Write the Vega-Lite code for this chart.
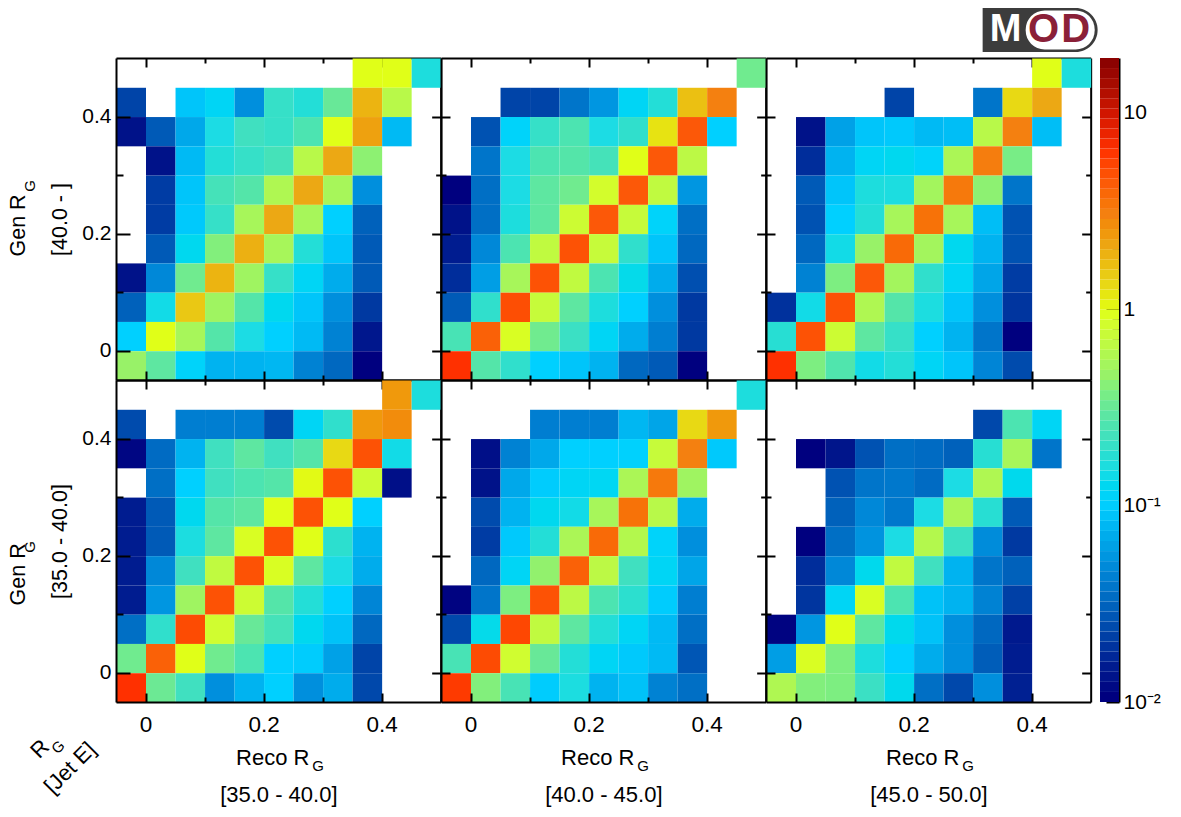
{
  "$schema": "https://vega.github.io/schema/vega-lite/v6.json",
  "background": "#ffffff",
  "padding": {"left": 7, "top": 8, "right": 5, "bottom": 5},
  "config": {
    "view": {"stroke": null},
    "font": "Liberation Sans",
    "axis": {
      "grid": false,
      "domainColor": "#000000",
      "domainWidth": 2,
      "tickColor": "#000000",
      "tickWidth": 2,
      "labelColor": "#000000",
      "labelFont": "Liberation Sans",
      "titleColor": "#000000",
      "titleFont": "Liberation Sans",
      "titleFontWeight": "normal"
    },
    "axisX": {"labelFontSize": 22.5, "titleFontSize": 22},
    "axisY": {"labelFontSize": 21, "titleFontSize": 21.5}
  },
  "datasets": {
    "A": [
      {"x":0.375,"y":0.475,"v":0.925},{"x":0.425,"y":0.475,"v":0.925},{"x":0.475,"y":0.475,"v":0.151},
      {"x":-0.025,"y":0.425,"v":0.0213},{"x":0.075,"y":0.425,"v":0.0859},{"x":0.125,"y":0.425,"v":0.112},{"x":0.175,"y":0.425,"v":0.0488},{"x":0.225,"y":0.425,"v":0.19},{"x":0.275,"y":0.425,"v":0.163},{"x":0.325,"y":0.425,"v":0.298},{"x":0.375,"y":0.425,"v":1.76},{"x":0.425,"y":0.425,"v":0.589},
      {"x":-0.025,"y":0.375,"v":0.0125},{"x":0.025,"y":0.375,"v":0.0267},{"x":0.075,"y":0.375,"v":0.0635},{"x":0.125,"y":0.375,"v":0.14},{"x":0.175,"y":0.375,"v":0.205},{"x":0.225,"y":0.375,"v":0.19},{"x":0.275,"y":0.375,"v":0.238},{"x":0.325,"y":0.375,"v":0.925},{"x":0.375,"y":0.375,"v":2.12},{"x":0.425,"y":0.375,"v":0.0767},
      {"x":0.025,"y":0.325,"v":0.0125},{"x":0.075,"y":0.325,"v":0.0767},{"x":0.125,"y":0.325,"v":0.163},{"x":0.175,"y":0.325,"v":0.19},{"x":0.225,"y":0.325,"v":0.221},{"x":0.275,"y":0.325,"v":0.589},{"x":0.325,"y":0.325,"v":1.97},{"x":0.375,"y":0.325,"v":0.404},
      {"x":0.025,"y":0.275,"v":0.0197},{"x":0.075,"y":0.275,"v":0.0859},{"x":0.125,"y":0.275,"v":0.221},{"x":0.175,"y":0.275,"v":0.257},{"x":0.225,"y":0.275,"v":0.546},{"x":0.275,"y":0.275,"v":1.97},{"x":0.325,"y":0.275,"v":0.506},{"x":0.375,"y":0.275,"v":0.0488},
      {"x":0.025,"y":0.225,"v":0.0197},{"x":0.075,"y":0.225,"v":0.0892},{"x":0.125,"y":0.225,"v":0.19},{"x":0.175,"y":0.225,"v":0.506},{"x":0.225,"y":0.225,"v":1.97},{"x":0.275,"y":0.225,"v":0.506},{"x":0.325,"y":0.225,"v":0.0962},{"x":0.375,"y":0.225,"v":0.0287},
      {"x":0.025,"y":0.175,"v":0.0267},{"x":0.075,"y":0.175,"v":0.121},{"x":0.125,"y":0.175,"v":0.375},{"x":0.175,"y":0.175,"v":1.83},{"x":0.225,"y":0.175,"v":0.506},{"x":0.275,"y":0.175,"v":0.163},{"x":0.325,"y":0.175,"v":0.0859},{"x":0.375,"y":0.175,"v":0.0267},
      {"x":-0.025,"y":0.125,"v":0.0125},{"x":0.025,"y":0.125,"v":0.0452},{"x":0.075,"y":0.125,"v":0.322},{"x":0.125,"y":0.125,"v":1.76},{"x":0.175,"y":0.125,"v":0.47},{"x":0.225,"y":0.125,"v":0.19},{"x":0.275,"y":0.125,"v":0.112},{"x":0.325,"y":0.125,"v":0.066},{"x":0.375,"y":0.125,"v":0.0267},
      {"x":-0.025,"y":0.075,"v":0.0287},{"x":0.025,"y":0.075,"v":0.135},{"x":0.075,"y":0.075,"v":1.46},{"x":0.125,"y":0.075,"v":0.47},{"x":0.175,"y":0.075,"v":0.257},{"x":0.225,"y":0.075,"v":0.121},{"x":0.275,"y":0.075,"v":0.0859},{"x":0.325,"y":0.075,"v":0.0488},{"x":0.375,"y":0.075,"v":0.019},
      {"x":-0.025,"y":0.025,"v":0.0962},{"x":0.025,"y":0.025,"v":0.925},{"x":0.075,"y":0.025,"v":0.506},{"x":0.125,"y":0.025,"v":0.257},{"x":0.175,"y":0.025,"v":0.14},{"x":0.225,"y":0.025,"v":0.0962},{"x":0.275,"y":0.025,"v":0.0767},{"x":0.325,"y":0.025,"v":0.0419},{"x":0.375,"y":0.025,"v":0.0135},
      {"x":-0.025,"y":-0.025,"v":0.435},{"x":0.025,"y":-0.025,"v":0.277},{"x":0.075,"y":-0.025,"v":0.104},{"x":0.125,"y":-0.025,"v":0.0711},{"x":0.175,"y":-0.025,"v":0.0711},{"x":0.225,"y":-0.025,"v":0.0739},{"x":0.275,"y":-0.025,"v":0.0419},{"x":0.325,"y":-0.025,"v":0.031},{"x":0.375,"y":-0.025,"v":0.01}
    ],
    "B": [
      {"x":0.475,"y":0.475,"v":0.322},
      {"x":0.075,"y":0.425,"v":0.0213},{"x":0.125,"y":0.425,"v":0.0213},{"x":0.175,"y":0.425,"v":0.0361},{"x":0.225,"y":0.425,"v":0.0526},{"x":0.275,"y":0.425,"v":0.112},{"x":0.325,"y":0.425,"v":0.163},{"x":0.375,"y":0.425,"v":1.57},{"x":0.425,"y":0.425,"v":2.87},
      {"x":0.025,"y":0.375,"v":0.0247},{"x":0.075,"y":0.375,"v":0.104},{"x":0.125,"y":0.375,"v":0.19},{"x":0.175,"y":0.375,"v":0.238},{"x":0.225,"y":0.375,"v":0.14},{"x":0.275,"y":0.375,"v":0.182},{"x":0.325,"y":0.375,"v":1.16},{"x":0.375,"y":0.375,"v":4.19},{"x":0.425,"y":0.375,"v":0.0962},
      {"x":0.025,"y":0.325,"v":0.0361},{"x":0.075,"y":0.325,"v":0.14},{"x":0.125,"y":0.325,"v":0.238},{"x":0.175,"y":0.325,"v":0.257},{"x":0.225,"y":0.325,"v":0.221},{"x":0.275,"y":0.325,"v":0.925},{"x":0.325,"y":0.325,"v":4.19},{"x":0.375,"y":0.325,"v":0.611},
      {"x":-0.025,"y":0.275,"v":0.01},{"x":0.025,"y":0.275,"v":0.0335},{"x":0.075,"y":0.275,"v":0.14},{"x":0.125,"y":0.275,"v":0.277},{"x":0.175,"y":0.275,"v":0.322},{"x":0.225,"y":0.275,"v":0.795},{"x":0.275,"y":0.275,"v":4.19},{"x":0.325,"y":0.275,"v":0.634},{"x":0.375,"y":0.275,"v":0.0526},
      {"x":-0.025,"y":0.225,"v":0.0125},{"x":0.025,"y":0.225,"v":0.0335},{"x":0.075,"y":0.225,"v":0.151},{"x":0.125,"y":0.225,"v":0.277},{"x":0.175,"y":0.225,"v":0.738},{"x":0.225,"y":0.225,"v":4.19},{"x":0.275,"y":0.225,"v":0.684},{"x":0.325,"y":0.225,"v":0.104},{"x":0.375,"y":0.225,"v":0.0335},
      {"x":-0.025,"y":0.175,"v":0.0146},{"x":0.025,"y":0.175,"v":0.0452},{"x":0.075,"y":0.175,"v":0.238},{"x":0.125,"y":0.175,"v":0.634},{"x":0.175,"y":0.175,"v":4.51},{"x":0.225,"y":0.175,"v":0.684},{"x":0.275,"y":0.175,"v":0.182},{"x":0.325,"y":0.175,"v":0.0859},{"x":0.375,"y":0.175,"v":0.031},
      {"x":-0.025,"y":0.125,"v":0.017},{"x":0.025,"y":0.125,"v":0.0567},{"x":0.075,"y":0.125,"v":0.506},{"x":0.125,"y":0.125,"v":4.51},{"x":0.175,"y":0.125,"v":0.634},{"x":0.225,"y":0.125,"v":0.238},{"x":0.275,"y":0.125,"v":0.13},{"x":0.325,"y":0.125,"v":0.066},{"x":0.375,"y":0.125,"v":0.0238},
      {"x":-0.025,"y":0.075,"v":0.0267},{"x":0.025,"y":0.075,"v":0.182},{"x":0.075,"y":0.075,"v":4.69},{"x":0.125,"y":0.075,"v":0.684},{"x":0.175,"y":0.075,"v":0.277},{"x":0.225,"y":0.075,"v":0.151},{"x":0.275,"y":0.075,"v":0.0962},{"x":0.325,"y":0.075,"v":0.0488},{"x":0.375,"y":0.075,"v":0.019},
      {"x":-0.025,"y":0.025,"v":0.229},{"x":0.025,"y":0.025,"v":3.88},{"x":0.075,"y":0.025,"v":0.857},{"x":0.125,"y":0.025,"v":0.322},{"x":0.175,"y":0.025,"v":0.197},{"x":0.225,"y":0.025,"v":0.112},{"x":0.275,"y":0.025,"v":0.066},{"x":0.325,"y":0.025,"v":0.0404},{"x":0.375,"y":0.025,"v":0.019},
      {"x":-0.025,"y":-0.025,"v":6.1},{"x":0.025,"y":-0.025,"v":0.257},{"x":0.075,"y":-0.025,"v":0.182},{"x":0.125,"y":-0.025,"v":0.0962},{"x":0.175,"y":-0.025,"v":0.0859},{"x":0.225,"y":-0.025,"v":0.0711},{"x":0.275,"y":-0.025,"v":0.031},{"x":0.325,"y":-0.025,"v":0.0267},{"x":0.375,"y":-0.025,"v":0.01}
    ],
    "C": [
      {"x":0.425,"y":0.475,"v":0.925},{"x":0.475,"y":0.475,"v":0.151},
      {"x":0.175,"y":0.425,"v":0.0213},{"x":0.325,"y":0.425,"v":0.0361},{"x":0.375,"y":0.425,"v":1.25},{"x":0.425,"y":0.425,"v":1.97},
      {"x":0.025,"y":0.375,"v":0.0125},{"x":0.075,"y":0.375,"v":0.0589},{"x":0.125,"y":0.375,"v":0.0859},{"x":0.175,"y":0.375,"v":0.0892},{"x":0.225,"y":0.375,"v":0.0767},{"x":0.275,"y":0.375,"v":0.0796},{"x":0.325,"y":0.375,"v":0.589},{"x":0.375,"y":0.375,"v":2.87},{"x":0.425,"y":0.375,"v":0.0796},
      {"x":0.025,"y":0.325,"v":0.017},{"x":0.075,"y":0.325,"v":0.0711},{"x":0.125,"y":0.325,"v":0.112},{"x":0.175,"y":0.325,"v":0.121},{"x":0.225,"y":0.325,"v":0.104},{"x":0.275,"y":0.325,"v":0.526},{"x":0.325,"y":0.325,"v":2.98},{"x":0.375,"y":0.325,"v":0.347},
      {"x":0.025,"y":0.275,"v":0.0267},{"x":0.075,"y":0.275,"v":0.0859},{"x":0.125,"y":0.275,"v":0.151},{"x":0.175,"y":0.275,"v":0.146},{"x":0.225,"y":0.275,"v":0.488},{"x":0.275,"y":0.275,"v":3.09},{"x":0.325,"y":0.275,"v":0.404},{"x":0.375,"y":0.275,"v":0.0361},
      {"x":0.025,"y":0.225,"v":0.0247},{"x":0.075,"y":0.225,"v":0.0962},{"x":0.125,"y":0.225,"v":0.163},{"x":0.175,"y":0.225,"v":0.506},{"x":0.225,"y":0.225,"v":3.33},{"x":0.275,"y":0.225,"v":0.506},{"x":0.325,"y":0.225,"v":0.0796},{"x":0.375,"y":0.225,"v":0.0247},
      {"x":0.025,"y":0.175,"v":0.031},{"x":0.075,"y":0.175,"v":0.135},{"x":0.125,"y":0.175,"v":0.435},{"x":0.175,"y":0.175,"v":3.6},{"x":0.225,"y":0.175,"v":0.488},{"x":0.275,"y":0.175,"v":0.121},{"x":0.325,"y":0.175,"v":0.0711},{"x":0.375,"y":0.175,"v":0.0247},
      {"x":0.025,"y":0.125,"v":0.0419},{"x":0.075,"y":0.125,"v":0.361},{"x":0.125,"y":0.125,"v":4.19},{"x":0.175,"y":0.125,"v":0.488},{"x":0.225,"y":0.125,"v":0.182},{"x":0.275,"y":0.125,"v":0.112},{"x":0.325,"y":0.125,"v":0.0612},{"x":0.375,"y":0.125,"v":0.0197},
      {"x":-0.025,"y":0.075,"v":0.0176},{"x":0.025,"y":0.075,"v":0.135},{"x":0.075,"y":0.075,"v":4.51},{"x":0.125,"y":0.075,"v":0.546},{"x":0.175,"y":0.075,"v":0.257},{"x":0.225,"y":0.075,"v":0.146},{"x":0.275,"y":0.075,"v":0.0859},{"x":0.325,"y":0.075,"v":0.0488},{"x":0.375,"y":0.075,"v":0.0183},
      {"x":-0.025,"y":0.025,"v":0.169},{"x":0.025,"y":0.025,"v":4.51},{"x":0.075,"y":0.025,"v":0.738},{"x":0.125,"y":0.025,"v":0.277},{"x":0.175,"y":0.025,"v":0.19},{"x":0.225,"y":0.025,"v":0.0962},{"x":0.275,"y":0.025,"v":0.0711},{"x":0.325,"y":0.025,"v":0.0361},{"x":0.375,"y":0.025,"v":0.01},
      {"x":-0.025,"y":-0.025,"v":6.1},{"x":0.025,"y":-0.025,"v":0.361},{"x":0.075,"y":-0.025,"v":0.247},{"x":0.125,"y":-0.025,"v":0.135},{"x":0.175,"y":-0.025,"v":0.163},{"x":0.225,"y":-0.025,"v":0.112},{"x":0.275,"y":-0.025,"v":0.0859},{"x":0.325,"y":-0.025,"v":0.0436},{"x":0.375,"y":-0.025,"v":0.0229}
    ],
    "D": [
      {"x":0.425,"y":0.475,"v":2.29},{"x":0.475,"y":0.475,"v":0.151},
      {"x":-0.025,"y":0.425,"v":0.0229},{"x":0.075,"y":0.425,"v":0.0404},{"x":0.125,"y":0.425,"v":0.0404},{"x":0.175,"y":0.425,"v":0.0404},{"x":0.225,"y":0.425,"v":0.0229},{"x":0.275,"y":0.425,"v":0.112},{"x":0.325,"y":0.425,"v":0.182},{"x":0.375,"y":0.425,"v":2.29},{"x":0.425,"y":0.425,"v":2.57},
      {"x":-0.025,"y":0.375,"v":0.0108},{"x":0.025,"y":0.375,"v":0.0322},{"x":0.075,"y":0.375,"v":0.0711},{"x":0.125,"y":0.375,"v":0.205},{"x":0.175,"y":0.375,"v":0.277},{"x":0.225,"y":0.375,"v":0.205},{"x":0.275,"y":0.375,"v":0.257},{"x":0.325,"y":0.375,"v":1.25},{"x":0.375,"y":0.375,"v":4.51},{"x":0.425,"y":0.375,"v":0.135},
      {"x":0.025,"y":0.325,"v":0.0335},{"x":0.075,"y":0.325,"v":0.0962},{"x":0.125,"y":0.325,"v":0.205},{"x":0.175,"y":0.325,"v":0.238},{"x":0.225,"y":0.325,"v":0.257},{"x":0.275,"y":0.325,"v":0.96},{"x":0.325,"y":0.325,"v":4.51},{"x":0.375,"y":0.325,"v":0.738},{"x":0.425,"y":0.325,"v":0.0121},
      {"x":-0.025,"y":0.275,"v":0.0146},{"x":0.025,"y":0.275,"v":0.0267},{"x":0.075,"y":0.275,"v":0.121},{"x":0.125,"y":0.275,"v":0.257},{"x":0.175,"y":0.275,"v":0.277},{"x":0.225,"y":0.275,"v":0.925},{"x":0.275,"y":0.275,"v":4.51},{"x":0.325,"y":0.275,"v":0.925},{"x":0.375,"y":0.275,"v":0.0962},
      {"x":-0.025,"y":0.225,"v":0.0146},{"x":0.025,"y":0.225,"v":0.0267},{"x":0.075,"y":0.225,"v":0.146},{"x":0.125,"y":0.225,"v":0.277},{"x":0.175,"y":0.225,"v":0.857},{"x":0.225,"y":0.225,"v":4.51},{"x":0.275,"y":0.225,"v":0.925},{"x":0.325,"y":0.225,"v":0.176},{"x":0.375,"y":0.225,"v":0.0711},
      {"x":-0.025,"y":0.175,"v":0.0146},{"x":0.025,"y":0.175,"v":0.0452},{"x":0.075,"y":0.175,"v":0.205},{"x":0.125,"y":0.175,"v":0.634},{"x":0.175,"y":0.175,"v":4.51},{"x":0.225,"y":0.175,"v":0.857},{"x":0.275,"y":0.175,"v":0.277},{"x":0.325,"y":0.175,"v":0.14},{"x":0.375,"y":0.175,"v":0.066},
      {"x":-0.025,"y":0.125,"v":0.0146},{"x":0.025,"y":0.125,"v":0.0526},{"x":0.075,"y":0.125,"v":0.47},{"x":0.125,"y":0.125,"v":4.51},{"x":0.175,"y":0.125,"v":0.738},{"x":0.225,"y":0.125,"v":0.257},{"x":0.275,"y":0.125,"v":0.163},{"x":0.325,"y":0.125,"v":0.0962},{"x":0.375,"y":0.125,"v":0.0436},
      {"x":-0.025,"y":0.075,"v":0.0335},{"x":0.025,"y":0.075,"v":0.182},{"x":0.075,"y":0.075,"v":4.87},{"x":0.125,"y":0.075,"v":0.766},{"x":0.175,"y":0.075,"v":0.298},{"x":0.225,"y":0.075,"v":0.221},{"x":0.275,"y":0.075,"v":0.121},{"x":0.325,"y":0.075,"v":0.0827},{"x":0.375,"y":0.075,"v":0.031},
      {"x":-0.025,"y":0.025,"v":0.322},{"x":0.025,"y":0.025,"v":3.88},{"x":0.075,"y":0.025,"v":0.925},{"x":0.125,"y":0.025,"v":0.322},{"x":0.175,"y":0.025,"v":0.238},{"x":0.225,"y":0.025,"v":0.0962},{"x":0.275,"y":0.025,"v":0.0926},{"x":0.325,"y":0.025,"v":0.0589},{"x":0.375,"y":0.025,"v":0.0213},
      {"x":-0.025,"y":-0.025,"v":6.1},{"x":0.025,"y":-0.025,"v":0.31},{"x":0.075,"y":-0.025,"v":0.205},{"x":0.125,"y":-0.025,"v":0.0488},{"x":0.175,"y":-0.025,"v":0.0711},{"x":0.225,"y":-0.025,"v":0.0962},{"x":0.275,"y":-0.025,"v":0.0488},{"x":0.325,"y":-0.025,"v":0.066},{"x":0.375,"y":-0.025,"v":0.0221}
    ],
    "E": [
      {"x":0.475,"y":0.475,"v":0.151},
      {"x":0.125,"y":0.425,"v":0.0404},{"x":0.175,"y":0.425,"v":0.0404},{"x":0.225,"y":0.425,"v":0.0404},{"x":0.275,"y":0.425,"v":0.0739},{"x":0.325,"y":0.425,"v":0.0612},{"x":0.375,"y":0.425,"v":1.25},{"x":0.425,"y":0.425,"v":2.29},
      {"x":0.025,"y":0.375,"v":0.0121},{"x":0.075,"y":0.375,"v":0.0419},{"x":0.125,"y":0.375,"v":0.0635},{"x":0.175,"y":0.375,"v":0.0962},{"x":0.225,"y":0.375,"v":0.0962},{"x":0.275,"y":0.375,"v":0.0999},{"x":0.325,"y":0.375,"v":0.684},{"x":0.375,"y":0.375,"v":2.87},{"x":0.425,"y":0.375,"v":0.0892},
      {"x":0.025,"y":0.325,"v":0.0125},{"x":0.075,"y":0.325,"v":0.0635},{"x":0.125,"y":0.325,"v":0.0926},{"x":0.175,"y":0.325,"v":0.112},{"x":0.225,"y":0.325,"v":0.116},{"x":0.275,"y":0.325,"v":0.526},{"x":0.325,"y":0.325,"v":3.09},{"x":0.375,"y":0.325,"v":0.47},
      {"x":0.025,"y":0.275,"v":0.0229},{"x":0.075,"y":0.275,"v":0.0711},{"x":0.125,"y":0.275,"v":0.121},{"x":0.175,"y":0.275,"v":0.135},{"x":0.225,"y":0.275,"v":0.506},{"x":0.275,"y":0.275,"v":3.33},{"x":0.325,"y":0.275,"v":0.589},{"x":0.375,"y":0.275,"v":0.066},
      {"x":0.025,"y":0.225,"v":0.0197},{"x":0.075,"y":0.225,"v":0.0892},{"x":0.125,"y":0.225,"v":0.163},{"x":0.175,"y":0.225,"v":0.526},{"x":0.225,"y":0.225,"v":3.6},{"x":0.275,"y":0.225,"v":0.567},{"x":0.325,"y":0.225,"v":0.104},{"x":0.375,"y":0.225,"v":0.0488},
      {"x":0.025,"y":0.175,"v":0.031},{"x":0.075,"y":0.175,"v":0.112},{"x":0.125,"y":0.175,"v":0.419},{"x":0.175,"y":0.175,"v":3.88},{"x":0.225,"y":0.175,"v":0.611},{"x":0.275,"y":0.175,"v":0.205},{"x":0.325,"y":0.175,"v":0.112},{"x":0.375,"y":0.175,"v":0.0612},
      {"x":-0.025,"y":0.125,"v":0.0104},{"x":0.025,"y":0.125,"v":0.0361},{"x":0.075,"y":0.125,"v":0.361},{"x":0.125,"y":0.125,"v":4.51},{"x":0.175,"y":0.125,"v":0.611},{"x":0.225,"y":0.125,"v":0.238},{"x":0.275,"y":0.125,"v":0.176},{"x":0.325,"y":0.125,"v":0.0926},{"x":0.375,"y":0.125,"v":0.0404},
      {"x":-0.025,"y":0.075,"v":0.0221},{"x":0.025,"y":0.075,"v":0.13},{"x":0.075,"y":0.075,"v":5.05},{"x":0.125,"y":0.075,"v":0.634},{"x":0.175,"y":0.075,"v":0.277},{"x":0.225,"y":0.075,"v":0.163},{"x":0.275,"y":0.075,"v":0.112},{"x":0.325,"y":0.075,"v":0.0767},{"x":0.375,"y":0.075,"v":0.0335},
      {"x":-0.025,"y":0.025,"v":0.229},{"x":0.025,"y":0.025,"v":4.87},{"x":0.075,"y":0.025,"v":0.766},{"x":0.125,"y":0.025,"v":0.298},{"x":0.175,"y":0.025,"v":0.163},{"x":0.225,"y":0.025,"v":0.112},{"x":0.275,"y":0.025,"v":0.0892},{"x":0.325,"y":0.025,"v":0.0767},{"x":0.375,"y":0.025,"v":0.0257},
      {"x":-0.025,"y":-0.025,"v":5.66},{"x":0.025,"y":-0.025,"v":0.375},{"x":0.075,"y":-0.025,"v":0.229},{"x":0.125,"y":-0.025,"v":0.0926},{"x":0.175,"y":-0.025,"v":0.146},{"x":0.225,"y":-0.025,"v":0.0711},{"x":0.275,"y":-0.025,"v":0.0827},{"x":0.325,"y":-0.025,"v":0.0419},{"x":0.375,"y":-0.025,"v":0.0335}
    ],
    "F": [
      {"x":0.325,"y":0.425,"v":0.0221},{"x":0.375,"y":0.425,"v":0.238},{"x":0.425,"y":0.425,"v":0.112},
      {"x":0.025,"y":0.375,"v":0.01},{"x":0.075,"y":0.375,"v":0.013},{"x":0.125,"y":0.375,"v":0.0247},{"x":0.175,"y":0.375,"v":0.0335},{"x":0.225,"y":0.375,"v":0.0322},{"x":0.275,"y":0.375,"v":0.0287},{"x":0.325,"y":0.375,"v":0.169},{"x":0.375,"y":0.375,"v":0.506},{"x":0.425,"y":0.375,"v":0.0361},
      {"x":0.075,"y":0.325,"v":0.0247},{"x":0.125,"y":0.325,"v":0.0361},{"x":0.175,"y":0.325,"v":0.0374},{"x":0.225,"y":0.325,"v":0.0322},{"x":0.275,"y":0.325,"v":0.14},{"x":0.325,"y":0.325,"v":0.546},{"x":0.375,"y":0.325,"v":0.125},
      {"x":0.075,"y":0.275,"v":0.0287},{"x":0.125,"y":0.275,"v":0.0452},{"x":0.175,"y":0.275,"v":0.0374},{"x":0.225,"y":0.275,"v":0.14},{"x":0.275,"y":0.275,"v":0.526},{"x":0.325,"y":0.275,"v":0.169},{"x":0.375,"y":0.275,"v":0.0267},
      {"x":0.025,"y":0.225,"v":0.01},{"x":0.075,"y":0.225,"v":0.0335},{"x":0.125,"y":0.225,"v":0.0506},{"x":0.175,"y":0.225,"v":0.14},{"x":0.225,"y":0.225,"v":0.567},{"x":0.275,"y":0.225,"v":0.197},{"x":0.325,"y":0.225,"v":0.047},{"x":0.375,"y":0.225,"v":0.019},
      {"x":0.025,"y":0.175,"v":0.017},{"x":0.075,"y":0.175,"v":0.0452},{"x":0.125,"y":0.175,"v":0.125},{"x":0.175,"y":0.175,"v":0.634},{"x":0.225,"y":0.175,"v":0.205},{"x":0.275,"y":0.175,"v":0.0711},{"x":0.325,"y":0.175,"v":0.0361},{"x":0.375,"y":0.175,"v":0.0287},
      {"x":0.025,"y":0.125,"v":0.0183},{"x":0.075,"y":0.125,"v":0.112},{"x":0.125,"y":0.125,"v":0.857},{"x":0.175,"y":0.125,"v":0.238},{"x":0.225,"y":0.125,"v":0.0827},{"x":0.275,"y":0.125,"v":0.0711},{"x":0.325,"y":0.125,"v":0.0419},{"x":0.375,"y":0.125,"v":0.0205},
      {"x":-0.025,"y":0.075,"v":0.0104},{"x":0.025,"y":0.075,"v":0.0526},{"x":0.075,"y":0.075,"v":0.925},{"x":0.125,"y":0.075,"v":0.277},{"x":0.175,"y":0.075,"v":0.125},{"x":0.225,"y":0.075,"v":0.0827},{"x":0.275,"y":0.075,"v":0.0488},{"x":0.325,"y":0.075,"v":0.031},{"x":0.375,"y":0.075,"v":0.014},
      {"x":-0.025,"y":0.025,"v":0.0567},{"x":0.025,"y":0.025,"v":0.857},{"x":0.075,"y":0.025,"v":0.361},{"x":0.125,"y":0.025,"v":0.151},{"x":0.175,"y":0.025,"v":0.0962},{"x":0.225,"y":0.025,"v":0.066},{"x":0.275,"y":0.025,"v":0.0488},{"x":0.325,"y":0.025,"v":0.0277},{"x":0.375,"y":0.025,"v":0.0146},
      {"x":-0.025,"y":-0.025,"v":0.546},{"x":0.025,"y":-0.025,"v":0.375},{"x":0.075,"y":-0.025,"v":0.361},{"x":0.125,"y":-0.025,"v":0.197},{"x":0.175,"y":-0.025,"v":0.125},{"x":0.225,"y":-0.025,"v":0.0335},{"x":0.275,"y":-0.025,"v":0.0221},{"x":0.325,"y":-0.025,"v":0.0488},{"x":0.375,"y":-0.025,"v":0.0151}
    ],
    "bar": [
      {"a":0.01,"b":0.01125},{"a":0.01125,"b":0.01266},{"a":0.01266,"b":0.01425},{"a":0.01425,"b":0.01603},{"a":0.01603,"b":0.01804},{"a":0.01804,"b":0.02029},{"a":0.02029,"b":0.02284},{"a":0.02284,"b":0.0257},{"a":0.0257,"b":0.02891},{"a":0.02891,"b":0.03253},{"a":0.03253,"b":0.0366},{"a":0.0366,"b":0.04119},{"a":0.04119,"b":0.04634},{"a":0.04634,"b":0.05214},{"a":0.05214,"b":0.05867},{"a":0.05867,"b":0.06602},{"a":0.06602,"b":0.07428},{"a":0.07428,"b":0.08358},{"a":0.08358,"b":0.09405},{"a":0.09405,"b":0.1058},{"a":0.1058,"b":0.1191},{"a":0.1191,"b":0.134},{"a":0.134,"b":0.1507},{"a":0.1507,"b":0.1696},{"a":0.1696,"b":0.1908},{"a":0.1908,"b":0.2147},{"a":0.2147,"b":0.2416},{"a":0.2416,"b":0.2719},{"a":0.2719,"b":0.3059},{"a":0.3059,"b":0.3442},{"a":0.3442,"b":0.3873},{"a":0.3873,"b":0.4358},{"a":0.4358,"b":0.4903},{"a":0.4903,"b":0.5517},{"a":0.5517,"b":0.6208},{"a":0.6208,"b":0.6985},{"a":0.6985,"b":0.786},{"a":0.786,"b":0.8844},{"a":0.8844,"b":0.9951},{"a":0.9951,"b":1.12},{"a":1.12,"b":1.26},{"a":1.26,"b":1.418},{"a":1.418,"b":1.595},{"a":1.595,"b":1.795},{"a":1.795,"b":2.02},{"a":2.02,"b":2.273},{"a":2.273,"b":2.557},{"a":2.557,"b":2.877},{"a":2.877,"b":3.238},{"a":3.238,"b":3.643},{"a":3.643,"b":4.099},{"a":4.099,"b":4.612},{"a":4.612,"b":5.19},{"a":5.19,"b":5.839},{"a":5.839,"b":6.57},{"a":6.57,"b":7.393},{"a":7.393,"b":8.318},{"a":8.318,"b":9.36},{"a":9.36,"b":10.53},{"a":10.53,"b":11.85},{"a":11.85,"b":13.33},{"a":13.33,"b":15},{"a":15,"b":16.88},{"a":16.88,"b":18.99}
    ]
  },
  "spacing": 2,
  "hconcat": [
    {
      "columns": 3,
      "spacing": 0,
      "bounds": "flush",
      "concat": [
        {
          "width": 324.67,
          "height": 322,
          "data": {"values": [{}]},
          "resolve": {"axis": {"x": "independent", "y": "independent"}},
          "layer": [
            {
              "data": {"name": "A"},
              "mark": {"type": "rect", "binSpacing": 0},
              "encoding": {
                "x": {"field": "x", "type": "quantitative", "bin": {"extent": [-0.05, 0.5], "step": 0.05, "nice": false}, "scale": {"domain": [-0.05, 0.5], "nice": false, "zero": false}, "axis": {"title": null, "labels": false, "values": [0, 0.1, 0.2, 0.3, 0.4], "tickSize": {"condition": {"test": "datum.value==0||datum.value==0.2||datum.value==0.4", "value": -9}, "value": -5}}},
                "y": {"field": "y", "type": "quantitative", "bin": {"extent": [-0.05, 0.5], "step": 0.05, "nice": false}, "scale": {"domain": [-0.05, 0.5], "nice": false, "zero": false}, "axis": {"title": ["Gen R\u00a0\u00a0\u200b", "[40.0 - ]"], "titleLineHeight": 42, "titlePadding": 10, "values": [0, 0.1, 0.2, 0.3, 0.4], "labelExpr": "datum.value==0.1||datum.value==0.3?'':format(datum.value,'~g')", "labelPadding": 19, "tickSize": {"condition": {"test": "datum.value==0||datum.value==0.2||datum.value==0.4", "value": -14}, "value": -7}}},
                "color": {"field": "v", "type": "quantitative", "legend": null, "scale": {"type": "log", "domain": [0.01, 0.0146, 0.0213, 0.031, 0.0452, 0.066, 0.0962, 0.14, 0.205, 0.298, 0.435, 0.634, 0.925, 1.35, 1.97, 2.87, 4.19, 6.1, 8.89, 12.97, 18.99], "range": ["#00007f", "#001c90", "#0044a8", "#0068c0", "#0088d8", "#00acec", "#00d0ff", "#1cdce4", "#40e0c0", "#68e898", "#98f268", "#c0fa40", "#e0ff18", "#e8d018", "#eca814", "#f48010", "#fc5808", "#ff3000", "#d81800", "#a80c00", "#800000"]}}
              }
            },
            {
              "mark": {"type": "rule", "opacity": 0},
              "encoding": {
                "x": {"datum": 0, "type": "quantitative", "axis": {"title": null, "orient": "top", "labels": false, "values": [0, 0.1, 0.2, 0.3, 0.4], "tickSize": {"condition": {"test": "datum.value==0||datum.value==0.2||datum.value==0.4", "value": -9}, "value": -5}}},
                "y": {"datum": 0, "type": "quantitative", "axis": {"title": null, "orient": "right", "labels": false, "values": [0, 0.1, 0.2, 0.3, 0.4], "tickSize": {"condition": {"test": "datum.value==0||datum.value==0.2||datum.value==0.4", "value": -9}, "value": -5}}}
              }
            },
            {
              "mark": {"type": "text", "text": "G", "fontSize": 15, "angle": 270, "dy": -86, "color": "#000000"},
              "encoding": {
                "x": {"datum": -0.05, "type": "quantitative", "axis": null},
                "y": {"datum": 0.2813, "type": "quantitative", "axis": null}
              }
            }
          ]
        },
        {
          "width": 324.67,
          "height": 322,
          "data": {"values": [{}]},
          "resolve": {"axis": {"x": "independent", "y": "independent"}},
          "layer": [
            {
              "data": {"name": "B"},
              "mark": {"type": "rect", "binSpacing": 0},
              "encoding": {
                "x": {"field": "x", "type": "quantitative", "bin": {"extent": [-0.05, 0.5], "step": 0.05, "nice": false}, "scale": {"domain": [-0.05, 0.5], "nice": false, "zero": false}, "axis": {"title": null, "labels": false, "values": [0, 0.1, 0.2, 0.3, 0.4], "tickSize": {"condition": {"test": "datum.value==0||datum.value==0.2||datum.value==0.4", "value": -9}, "value": -5}}},
                "y": {"field": "y", "type": "quantitative", "bin": {"extent": [-0.05, 0.5], "step": 0.05, "nice": false}, "scale": {"domain": [-0.05, 0.5], "nice": false, "zero": false}, "axis": {"title": null, "labels": false, "values": [0, 0.1, 0.2, 0.3, 0.4], "tickSize": {"condition": {"test": "datum.value==0||datum.value==0.2||datum.value==0.4", "value": -9}, "value": -5}}},
                "color": {"field": "v", "type": "quantitative", "legend": null, "scale": {"type": "log", "domain": [0.01, 0.0146, 0.0213, 0.031, 0.0452, 0.066, 0.0962, 0.14, 0.205, 0.298, 0.435, 0.634, 0.925, 1.35, 1.97, 2.87, 4.19, 6.1, 8.89, 12.97, 18.99], "range": ["#00007f", "#001c90", "#0044a8", "#0068c0", "#0088d8", "#00acec", "#00d0ff", "#1cdce4", "#40e0c0", "#68e898", "#98f268", "#c0fa40", "#e0ff18", "#e8d018", "#eca814", "#f48010", "#fc5808", "#ff3000", "#d81800", "#a80c00", "#800000"]}}
              }
            },
            {
              "mark": {"type": "rule", "opacity": 0},
              "encoding": {
                "x": {"datum": 0, "type": "quantitative", "axis": {"title": null, "orient": "top", "labels": false, "values": [0, 0.1, 0.2, 0.3, 0.4], "tickSize": {"condition": {"test": "datum.value==0||datum.value==0.2||datum.value==0.4", "value": -9}, "value": -5}}},
                "y": {"datum": 0, "type": "quantitative", "axis": {"title": null, "orient": "right", "labels": false, "values": [0, 0.1, 0.2, 0.3, 0.4], "tickSize": {"condition": {"test": "datum.value==0||datum.value==0.2||datum.value==0.4", "value": -9}, "value": -5}}}
              }
            }
          ]
        },
        {
          "width": 324.67,
          "height": 322,
          "data": {"values": [{}]},
          "resolve": {"axis": {"x": "independent", "y": "independent"}},
          "layer": [
            {
              "data": {"name": "C"},
              "mark": {"type": "rect", "binSpacing": 0},
              "encoding": {
                "x": {"field": "x", "type": "quantitative", "bin": {"extent": [-0.05, 0.5], "step": 0.05, "nice": false}, "scale": {"domain": [-0.05, 0.5], "nice": false, "zero": false}, "axis": {"title": null, "labels": false, "values": [0, 0.1, 0.2, 0.3, 0.4], "tickSize": {"condition": {"test": "datum.value==0||datum.value==0.2||datum.value==0.4", "value": -9}, "value": -5}}},
                "y": {"field": "y", "type": "quantitative", "bin": {"extent": [-0.05, 0.5], "step": 0.05, "nice": false}, "scale": {"domain": [-0.05, 0.5], "nice": false, "zero": false}, "axis": {"title": null, "labels": false, "values": [0, 0.1, 0.2, 0.3, 0.4], "tickSize": {"condition": {"test": "datum.value==0||datum.value==0.2||datum.value==0.4", "value": -9}, "value": -5}}},
                "color": {"field": "v", "type": "quantitative", "legend": null, "scale": {"type": "log", "domain": [0.01, 0.0146, 0.0213, 0.031, 0.0452, 0.066, 0.0962, 0.14, 0.205, 0.298, 0.435, 0.634, 0.925, 1.35, 1.97, 2.87, 4.19, 6.1, 8.89, 12.97, 18.99], "range": ["#00007f", "#001c90", "#0044a8", "#0068c0", "#0088d8", "#00acec", "#00d0ff", "#1cdce4", "#40e0c0", "#68e898", "#98f268", "#c0fa40", "#e0ff18", "#e8d018", "#eca814", "#f48010", "#fc5808", "#ff3000", "#d81800", "#a80c00", "#800000"]}}
              }
            },
            {
              "mark": {"type": "rule", "opacity": 0},
              "encoding": {
                "x": {"datum": 0, "type": "quantitative", "axis": {"title": null, "orient": "top", "labels": false, "values": [0, 0.1, 0.2, 0.3, 0.4], "tickSize": {"condition": {"test": "datum.value==0||datum.value==0.2||datum.value==0.4", "value": -9}, "value": -5}}},
                "y": {"datum": 0, "type": "quantitative", "axis": {"title": null, "orient": "right", "labels": false, "values": [0, 0.1, 0.2, 0.3, 0.4], "tickSize": {"condition": {"test": "datum.value==0||datum.value==0.2||datum.value==0.4", "value": -9}, "value": -5}}}
              }
            },
            {
              "mark": {"type": "rect", "color": "#3c3c3c", "cornerRadiusTopRight": 22, "cornerRadiusBottomRight": 22},
              "encoding": {
                "x": {"datum": 0.317, "type": "quantitative", "axis": null},
                "x2": {"datum": 0.5118},
                "y": {"datum": 0.5854, "type": "quantitative", "axis": null},
                "y2": {"datum": 0.5102}
              }
            },
            {
              "mark": {"type": "rect", "color": "#ffffff", "cornerRadius": 19},
              "encoding": {
                "x": {"datum": 0.3899, "type": "quantitative", "axis": null},
                "x2": {"datum": 0.5068},
                "y": {"datum": 0.5811, "type": "quantitative", "axis": null},
                "y2": {"datum": 0.5145}
              }
            },
            {
              "mark": {"type": "text", "text": "M", "fontSize": 38, "fontWeight": "bold", "color": "#ffffff"},
              "encoding": {
                "x": {"datum": 0.356, "type": "quantitative", "axis": null},
                "y": {"datum": 0.5478, "type": "quantitative", "axis": null}
              }
            },
            {
              "mark": {"type": "text", "text": "O", "fontSize": 40, "fontWeight": "bold", "color": "#8a2038"},
              "encoding": {
                "x": {"datum": 0.4204, "type": "quantitative", "axis": null},
                "y": {"datum": 0.5478, "type": "quantitative", "axis": null}
              }
            },
            {
              "mark": {"type": "text", "text": "D", "fontSize": 40, "fontWeight": "bold", "color": "#8a2038"},
              "encoding": {
                "x": {"datum": 0.4746, "type": "quantitative", "axis": null},
                "y": {"datum": 0.5478, "type": "quantitative", "axis": null}
              }
            }
          ]
        },
        {
          "width": 324.67,
          "height": 322,
          "data": {"values": [{}]},
          "resolve": {"axis": {"x": "independent", "y": "independent"}},
          "layer": [
            {
              "data": {"name": "D"},
              "mark": {"type": "rect", "binSpacing": 0},
              "encoding": {
                "x": {"field": "x", "type": "quantitative", "bin": {"extent": [-0.05, 0.5], "step": 0.05, "nice": false}, "scale": {"domain": [-0.05, 0.5], "nice": false, "zero": false}, "axis": {"title": ["Reco R\u00a0\u00a0\u200b", "[35.0 - 40.0]"], "titleLineHeight": 37, "titlePadding": 12, "values": [0, 0.1, 0.2, 0.3, 0.4], "labelExpr": "datum.value==0.1||datum.value==0.3?'':format(datum.value,'~g')", "labelPadding": 20, "tickSize": {"condition": {"test": "datum.value==0||datum.value==0.2||datum.value==0.4", "value": -9}, "value": -5}}},
                "y": {"field": "y", "type": "quantitative", "bin": {"extent": [-0.05, 0.5], "step": 0.05, "nice": false}, "scale": {"domain": [-0.05, 0.5], "nice": false, "zero": false}, "axis": {"title": ["Gen R\u00a0\u00a0\u00a0\u00a0\u00a0\u00a0\u00a0\u00a0\u00a0\u00a0\u00a0\u200b", "[35.0 - 40.0]"], "titleLineHeight": 42, "titlePadding": 10, "values": [0, 0.1, 0.2, 0.3, 0.4], "labelExpr": "datum.value==0.1||datum.value==0.3?'':format(datum.value,'~g')", "labelPadding": 19, "tickSize": {"condition": {"test": "datum.value==0||datum.value==0.2||datum.value==0.4", "value": -14}, "value": -7}}},
                "color": {"field": "v", "type": "quantitative", "legend": null, "scale": {"type": "log", "domain": [0.01, 0.0146, 0.0213, 0.031, 0.0452, 0.066, 0.0962, 0.14, 0.205, 0.298, 0.435, 0.634, 0.925, 1.35, 1.97, 2.87, 4.19, 6.1, 8.89, 12.97, 18.99], "range": ["#00007f", "#001c90", "#0044a8", "#0068c0", "#0088d8", "#00acec", "#00d0ff", "#1cdce4", "#40e0c0", "#68e898", "#98f268", "#c0fa40", "#e0ff18", "#e8d018", "#eca814", "#f48010", "#fc5808", "#ff3000", "#d81800", "#a80c00", "#800000"]}}
              }
            },
            {
              "mark": {"type": "rule", "opacity": 0},
              "encoding": {
                "x": {"datum": 0, "type": "quantitative", "axis": {"title": null, "orient": "top", "labels": false, "values": [0, 0.1, 0.2, 0.3, 0.4], "tickSize": {"condition": {"test": "datum.value==0||datum.value==0.2||datum.value==0.4", "value": -9}, "value": -5}}},
                "y": {"datum": 0, "type": "quantitative", "axis": {"title": null, "orient": "right", "labels": false, "values": [0, 0.1, 0.2, 0.3, 0.4], "tickSize": {"condition": {"test": "datum.value==0||datum.value==0.2||datum.value==0.4", "value": -9}, "value": -5}}}
              }
            },
            {
              "mark": {"type": "text", "text": "G", "fontSize": 15, "angle": 270, "dy": -86, "color": "#000000"},
              "encoding": {
                "x": {"datum": -0.05, "type": "quantitative", "axis": null},
                "y": {"datum": 0.2147, "type": "quantitative", "axis": null}
              }
            },
            {
              "mark": {"type": "text", "text": "G", "fontSize": 15, "dy": 64, "color": "#000000"},
              "encoding": {
                "x": {"datum": 0.2925, "type": "quantitative", "axis": null},
                "y": {"datum": -0.05, "type": "quantitative", "axis": null}
              }
            },
            {
              "mark": {"type": "text", "text": "R", "fontSize": 22, "angle": 315, "dx": -87, "dy": -20.5, "color": "#000000"},
              "encoding": {
                "x": {"datum": -0.05, "type": "quantitative", "axis": null},
                "y": {"datum": -0.05, "type": "quantitative", "axis": null}
              }
            },
            {
              "mark": {"type": "text", "text": "G", "fontSize": 15, "angle": 315, "dx": -72.8, "dy": -9.2, "color": "#000000"},
              "encoding": {
                "x": {"datum": -0.05, "type": "quantitative", "axis": null},
                "y": {"datum": -0.05, "type": "quantitative", "axis": null}
              }
            },
            {
              "mark": {"type": "text", "text": "[Jet E]", "fontSize": 22, "angle": 315, "dx": -79.2, "dy": 14.1, "color": "#000000"},
              "encoding": {
                "x": {"datum": -0.05, "type": "quantitative", "axis": null},
                "y": {"datum": -0.05, "type": "quantitative", "axis": null}
              }
            }
          ]
        },
        {
          "width": 324.67,
          "height": 322,
          "data": {"values": [{}]},
          "resolve": {"axis": {"x": "independent", "y": "independent"}},
          "layer": [
            {
              "data": {"name": "E"},
              "mark": {"type": "rect", "binSpacing": 0},
              "encoding": {
                "x": {"field": "x", "type": "quantitative", "bin": {"extent": [-0.05, 0.5], "step": 0.05, "nice": false}, "scale": {"domain": [-0.05, 0.5], "nice": false, "zero": false}, "axis": {"title": ["Reco R\u00a0\u00a0\u200b", "[40.0 - 45.0]"], "titleLineHeight": 37, "titlePadding": 12, "values": [0, 0.1, 0.2, 0.3, 0.4], "labelExpr": "datum.value==0.1||datum.value==0.3?'':format(datum.value,'~g')", "labelPadding": 20, "tickSize": {"condition": {"test": "datum.value==0||datum.value==0.2||datum.value==0.4", "value": -9}, "value": -5}}},
                "y": {"field": "y", "type": "quantitative", "bin": {"extent": [-0.05, 0.5], "step": 0.05, "nice": false}, "scale": {"domain": [-0.05, 0.5], "nice": false, "zero": false}, "axis": {"title": null, "labels": false, "values": [0, 0.1, 0.2, 0.3, 0.4], "tickSize": {"condition": {"test": "datum.value==0||datum.value==0.2||datum.value==0.4", "value": -9}, "value": -5}}},
                "color": {"field": "v", "type": "quantitative", "legend": null, "scale": {"type": "log", "domain": [0.01, 0.0146, 0.0213, 0.031, 0.0452, 0.066, 0.0962, 0.14, 0.205, 0.298, 0.435, 0.634, 0.925, 1.35, 1.97, 2.87, 4.19, 6.1, 8.89, 12.97, 18.99], "range": ["#00007f", "#001c90", "#0044a8", "#0068c0", "#0088d8", "#00acec", "#00d0ff", "#1cdce4", "#40e0c0", "#68e898", "#98f268", "#c0fa40", "#e0ff18", "#e8d018", "#eca814", "#f48010", "#fc5808", "#ff3000", "#d81800", "#a80c00", "#800000"]}}
              }
            },
            {
              "mark": {"type": "rule", "opacity": 0},
              "encoding": {
                "x": {"datum": 0, "type": "quantitative", "axis": {"title": null, "orient": "top", "labels": false, "values": [0, 0.1, 0.2, 0.3, 0.4], "tickSize": {"condition": {"test": "datum.value==0||datum.value==0.2||datum.value==0.4", "value": -9}, "value": -5}}},
                "y": {"datum": 0, "type": "quantitative", "axis": {"title": null, "orient": "right", "labels": false, "values": [0, 0.1, 0.2, 0.3, 0.4], "tickSize": {"condition": {"test": "datum.value==0||datum.value==0.2||datum.value==0.4", "value": -9}, "value": -5}}}
              }
            },
            {
              "mark": {"type": "text", "text": "G", "fontSize": 15, "dy": 64, "color": "#000000"},
              "encoding": {
                "x": {"datum": 0.2925, "type": "quantitative", "axis": null},
                "y": {"datum": -0.05, "type": "quantitative", "axis": null}
              }
            }
          ]
        },
        {
          "width": 324.67,
          "height": 322,
          "data": {"values": [{}]},
          "resolve": {"axis": {"x": "independent", "y": "independent"}},
          "layer": [
            {
              "data": {"name": "F"},
              "mark": {"type": "rect", "binSpacing": 0},
              "encoding": {
                "x": {"field": "x", "type": "quantitative", "bin": {"extent": [-0.05, 0.5], "step": 0.05, "nice": false}, "scale": {"domain": [-0.05, 0.5], "nice": false, "zero": false}, "axis": {"title": ["Reco R\u00a0\u00a0\u200b", "[45.0 - 50.0]"], "titleLineHeight": 37, "titlePadding": 12, "values": [0, 0.1, 0.2, 0.3, 0.4], "labelExpr": "datum.value==0.1||datum.value==0.3?'':format(datum.value,'~g')", "labelPadding": 20, "tickSize": {"condition": {"test": "datum.value==0||datum.value==0.2||datum.value==0.4", "value": -9}, "value": -5}}},
                "y": {"field": "y", "type": "quantitative", "bin": {"extent": [-0.05, 0.5], "step": 0.05, "nice": false}, "scale": {"domain": [-0.05, 0.5], "nice": false, "zero": false}, "axis": {"title": null, "labels": false, "values": [0, 0.1, 0.2, 0.3, 0.4], "tickSize": {"condition": {"test": "datum.value==0||datum.value==0.2||datum.value==0.4", "value": -9}, "value": -5}}},
                "color": {"field": "v", "type": "quantitative", "legend": null, "scale": {"type": "log", "domain": [0.01, 0.0146, 0.0213, 0.031, 0.0452, 0.066, 0.0962, 0.14, 0.205, 0.298, 0.435, 0.634, 0.925, 1.35, 1.97, 2.87, 4.19, 6.1, 8.89, 12.97, 18.99], "range": ["#00007f", "#001c90", "#0044a8", "#0068c0", "#0088d8", "#00acec", "#00d0ff", "#1cdce4", "#40e0c0", "#68e898", "#98f268", "#c0fa40", "#e0ff18", "#e8d018", "#eca814", "#f48010", "#fc5808", "#ff3000", "#d81800", "#a80c00", "#800000"]}}
              }
            },
            {
              "mark": {"type": "rule", "opacity": 0},
              "encoding": {
                "x": {"datum": 0, "type": "quantitative", "axis": {"title": null, "orient": "top", "labels": false, "values": [0, 0.1, 0.2, 0.3, 0.4], "tickSize": {"condition": {"test": "datum.value==0||datum.value==0.2||datum.value==0.4", "value": -9}, "value": -5}}},
                "y": {"datum": 0, "type": "quantitative", "axis": {"title": null, "orient": "right", "labels": false, "values": [0, 0.1, 0.2, 0.3, 0.4], "tickSize": {"condition": {"test": "datum.value==0||datum.value==0.2||datum.value==0.4", "value": -9}, "value": -5}}}
              }
            },
            {
              "mark": {"type": "text", "text": "G", "fontSize": 15, "dy": 64, "color": "#000000"},
              "encoding": {
                "x": {"datum": 0.2925, "type": "quantitative", "axis": null},
                "y": {"datum": -0.05, "type": "quantitative", "axis": null}
              }
            }
          ]
        }
      ]
    },
    {
      "width": 19,
      "height": 644,
      "data": {"name": "bar"},
      "mark": "rect",
      "encoding": {
        "y": {"field": "a", "type": "quantitative", "scale": {"type": "log", "domain": [0.01, 18.99], "nice": false}, "axis": {"title": null, "orient": "right", "values": [0.02, 0.03, 0.04, 0.05, 0.06, 0.07, 0.08, 0.09, 0.01, 0.1, 0.2, 0.3, 0.4, 0.5, 0.6, 0.7, 0.8, 0.9, 1, 2, 3, 4, 5, 6, 7, 8, 9, 10], "labelExpr": "datum.value==10?'10':datum.value==1?'1':datum.value==0.1?'10\u207b\u00b9':datum.value==0.01?'10\u207b\u00b2':''", "labelPadding": 17, "labelOverlap": false, "labelFlush": false, "tickSize": {"condition": {"test": "datum.value==0.01||datum.value==0.1||datum.value==1||datum.value==10", "value": -13}, "value": -7}}},
        "y2": {"field": "b"},
        "color": {"field": "a", "type": "quantitative", "legend": null, "scale": {"type": "log", "domain": [0.01, 0.0146, 0.0213, 0.031, 0.0452, 0.066, 0.0962, 0.14, 0.205, 0.298, 0.435, 0.634, 0.925, 1.35, 1.97, 2.87, 4.19, 6.1, 8.89, 12.97, 18.99], "range": ["#00007f", "#001c90", "#0044a8", "#0068c0", "#0088d8", "#00acec", "#00d0ff", "#1cdce4", "#40e0c0", "#68e898", "#98f268", "#c0fa40", "#e0ff18", "#e8d018", "#eca814", "#f48010", "#fc5808", "#ff3000", "#d81800", "#a80c00", "#800000"]}}
      }
    }
  ]
}
